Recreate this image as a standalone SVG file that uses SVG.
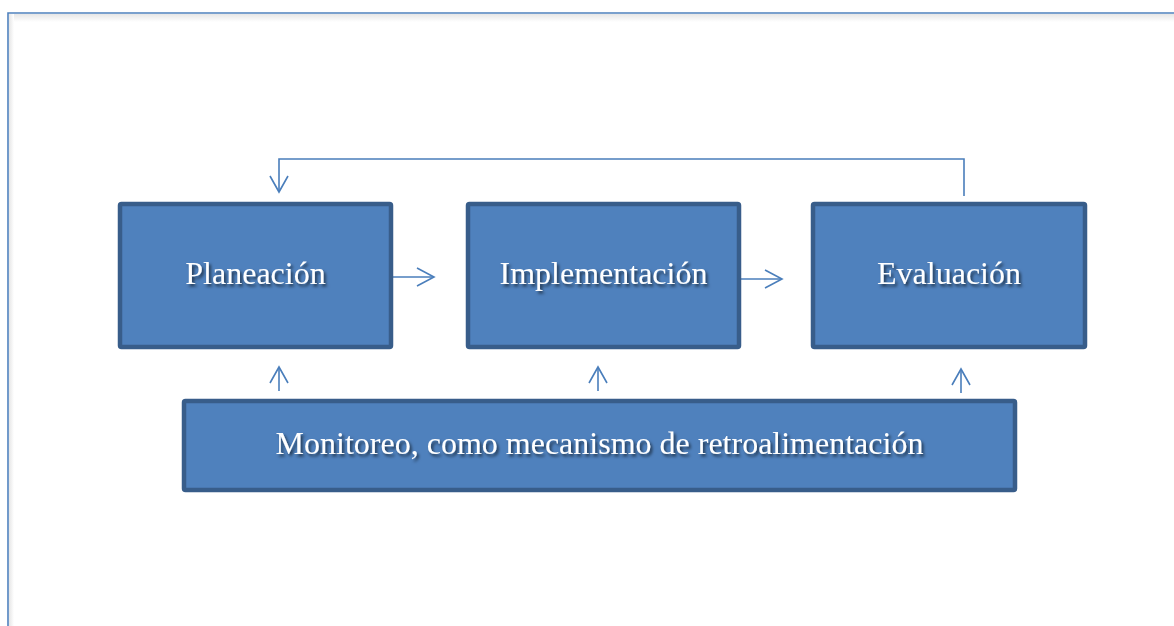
<svg xmlns="http://www.w3.org/2000/svg" width="1174" height="626" viewBox="0 0 1174 626">
<defs>
<style>
.box{fill:#4f81bd;stroke:#385d8a;stroke-width:4.5}
.lbl{font-family:"Liberation Serif","Times New Roman",serif;font-size:32px;fill:#ffffff;text-anchor:middle;filter:url(#ts)}
.con{fill:none;stroke:#4a7ebb;stroke-width:1.6}
.head{fill:none;stroke:#4a7ebb;stroke-width:1.6}
</style>
<filter id="ts" x="-10%" y="-30%" width="120%" height="160%">
<feDropShadow dx="2" dy="2.5" stdDeviation="1.5" flood-color="#000000" flood-opacity="0.6"/>
</filter>
<linearGradient id="fs" x1="0" y1="0" x2="0" y2="1">
<stop offset="0" stop-color="#e6e6e6"/>
<stop offset="1" stop-color="#ffffff"/>
</linearGradient>
<linearGradient id="fsl" x1="0" y1="0" x2="1" y2="0">
<stop offset="0" stop-color="#e6e6e6"/>
<stop offset="1" stop-color="#ffffff"/>
</linearGradient>
</defs>
<rect width="1174" height="626" fill="#ffffff"/>
<g id="frame">
<rect x="9" y="14" width="1165" height="8" fill="url(#fs)"/>
<rect x="9" y="14" width="5" height="612" fill="url(#fsl)"/>
<path d="M8,626 V13 H1174" fill="none" stroke="#4f81bd" stroke-width="1.6"/>
</g>
<g id="connectors">
<path class="con" d="M964,196 V159 H279 V192"/>
<path class="head" d="M270,176 L279,192 L288,176"/>
<path class="con" d="M392,277 H434"/>
<path class="head" d="M417,268 L434,277 L417,286"/>
<path class="con" d="M740,279 H782"/>
<path class="head" d="M765,270 L782,279 L765,288"/>
<path class="con" d="M279,391 V367"/>
<path class="head" d="M270,383 L279,367 L288,383"/>
<path class="con" d="M598,391 V367"/>
<path class="head" d="M589,383 L598,367 L607,383"/>
<path class="con" d="M961,393 V369"/>
<path class="head" d="M952,385 L961,369 L970,385"/>
</g>
<g id="planeacion">
<rect class="box" x="120" y="204" width="271" height="143" rx="1.5"/>
<text class="lbl" x="255.5" y="284">Planeación</text>
</g>
<g id="implementacion">
<rect class="box" x="468" y="204" width="271" height="143" rx="1.5"/>
<text class="lbl" x="603.5" y="284">Implementación</text>
</g>
<g id="evaluacion">
<rect class="box" x="813" y="204" width="272" height="143" rx="1.5"/>
<text class="lbl" x="949" y="284">Evaluación</text>
</g>
<g id="monitoreo">
<rect class="box" x="184" y="401" width="831" height="89" rx="1.5"/>
<text class="lbl" x="599.5" y="454">Monitoreo, como mecanismo de retroalimentación</text>
</g>
</svg>
